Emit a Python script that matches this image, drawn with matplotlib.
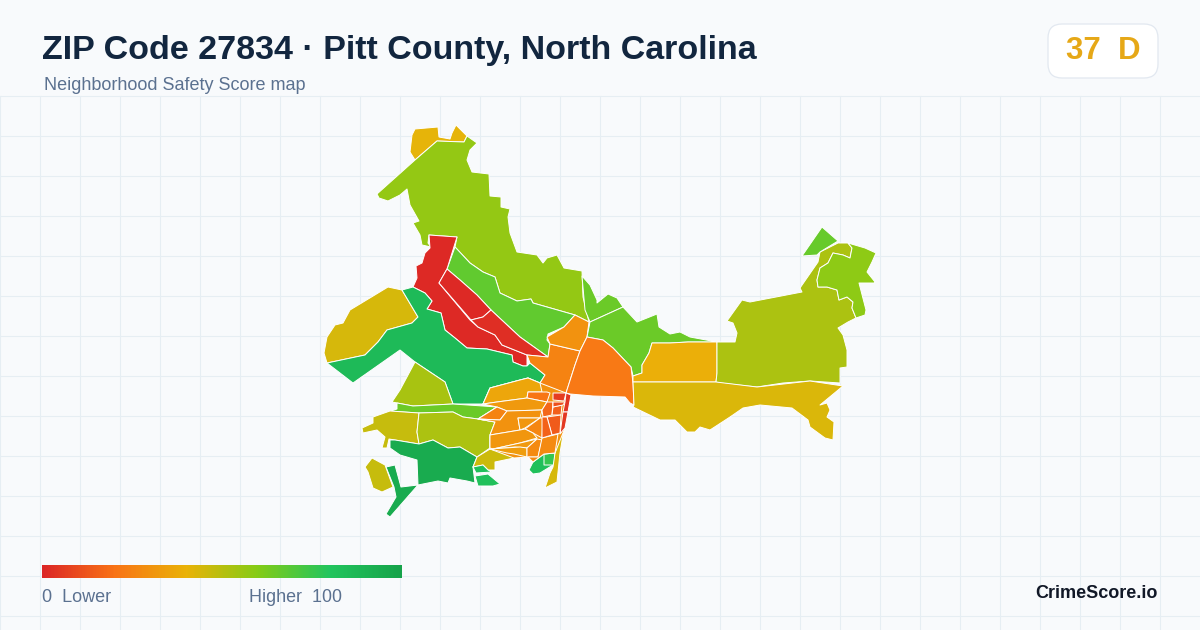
#!/usr/bin/env python3
import numpy as np
import matplotlib
matplotlib.use("Agg")
import matplotlib.pyplot as plt
from matplotlib.colors import LinearSegmentedColormap
from matplotlib.patches import FancyBboxPatch, Polygon

plt.rcParams["font.family"] = ["Liberation Sans", "DejaVu Sans"]

# tract outlines, x/y on the 1200x630 sheet
cap_north = [(415,160),(410,152),(412,135),(415,129),(438,127),(439,137),(450,139),(452,133),(456,125),(467,136),(464,142),(437,141)]
north_big = [(377,194),(415,160),(437,141),(464,142),(467,136),(477,143),(470,150),(467,160),(472,172),(489,174),(490,196),(501,197),(501,207),(510,209),(508,217),(510,233),(517,252),(537,255),(543,263),(547,258),(557,255),(564,268),(582,271),(583,297),(589,322),(575,315),(533,303),(531,299),(517,301),(500,293),(495,277),(483,272),(470,263),(455,247),(457,237),(429,235),(428,243),(431,247),(422,245),(420,235),(413,223),(419,221),(410,205),(407,189),(400,195),(388,201),(379,198)]
north_mid = [(455,247),(470,263),(483,272),(495,277),(500,293),(517,301),(531,299),(533,303),(575,315),(564,327),(548,334),(547,340),(550,344),(548,357),(520,337),(491,310),(477,295),(460,280),(447,269)]
red_west = [(429,235),(457,237),(447,269),(439,283),(470,320),(478,327),(495,335),(502,345),(527,355),(527,366),(523,366),(513,362),(512,355),(487,349),(467,348),(455,338),(445,330),(441,313),(427,309),(432,301),(425,293),(413,287),(417,278),(416,266),(422,263),(425,253),(430,248)]
red_upper = [(447,269),(460,280),(477,295),(491,310),(483,317),(471,320),(439,283)]
red_lower = [(491,310),(520,337),(548,357),(527,355),(502,345),(495,335),(478,327),(471,320),(483,317)]
west_olive = [(324,353),(327,337),(335,325),(343,323),(350,310),(388,287),(402,290),(418,317),(412,323),(387,330),(378,342),(365,355),(327,363)]
west_green = [(327,363),(365,355),(378,342),(387,330),(412,323),(418,317),(402,290),(413,287),(425,293),(432,301),(427,309),(441,313),(445,330),(455,338),(467,348),(487,349),(512,355),(513,362),(523,366),(527,366),(530,363),(545,375),(540,383),(528,378),(520,380),(490,388),(483,404),(453,404),(445,382),(415,362),(400,350),(353,383)]
centre_orange = [(527,355),(548,357),(550,344),(580,351),(575,365),(566,393),(553,394),(530,392),(540,383),(545,375),(530,363)]
notch_orange = [(547,337),(564,327),(575,315),(589,322),(587,337),(580,351),(550,344)]
sliver_green = [(582,276),(590,285),(597,300),(597,303),(608,294),(617,298),(623,307),(590,322),(585,310)]
east_green = [(590,322),(623,307),(637,322),(657,314),(659,327),(670,334),(680,332),(690,337),(717,342),(688,342),(670,343),(652,343),(649,353),(642,365),(642,373),(633,376),(631,367),(613,348),(603,340),(587,337)]
east_orange = [(587,337),(603,340),(613,348),(631,367),(633,383),(634,405),(630,403),(625,397),(593,396),(570,394),(566,393),(575,365),(580,351)]
east_box = [(633,376),(642,373),(642,365),(649,353),(652,343),(670,343),(688,342),(717,342),(717,373),(716,382),(633,382)]
east_large = [(717,342),(735,342),(737,333),(733,323),(727,321),(742,300),(750,302),(802,292),(800,288),(818,262),(820,252),(838,243),(848,243),(852,248),(850,258),(843,255),(833,253),(828,263),(820,268),(817,280),(818,287),(827,287),(837,290),(839,300),(847,297),(853,302),(852,308),(856,318),(848,322),(838,328),(843,335),(847,350),(847,367),(840,368),(840,383),(810,381),(783,383),(757,387),(720,383),(716,382),(717,373)]
ne_lime = [(848,243),(865,248),(876,253),(872,262),(867,272),(875,282),(874,283),(859,283),(866,310),(865,315),(856,318),(852,308),(853,302),(847,297),(839,300),(837,290),(827,287),(818,287),(817,280),(820,268),(828,263),(833,253),(843,255),(850,258),(852,248)]
ne_tip = [(802,256),(822,227),(838,241),(820,252),(817,255)]
south_east = [(633,382),(716,382),(757,387),(810,381),(843,386),(820,405),(827,403),(830,410),(827,417),(834,422),(833,440),(825,438),(810,427),(808,420),(792,408),(760,405),(743,408),(730,417),(710,430),(700,427),(695,432),(687,432),(675,420),(660,420),(633,407),(634,405)]
mid_olive = [(415,362),(445,382),(453,404),(413,406),(392,402),(400,390)]
mid_strip = [(397,403),(413,406),(453,404),(483,406),(497,407),(478,419),(463,417),(453,412),(418,413),(390,411),(397,409)]
sw_olive = [(373,417),(390,411),(419,413),(417,432),(419,444),(395,440),(389,439),(387,448),(382,448),(385,437),(377,430),(363,433),(362,428),(373,423)]
centre_olive = [(419,413),(453,412),(463,417),(478,419),(495,422),(490,437),(490,448),(477,457),(460,447),(448,448),(433,440),(419,444),(417,432)]
sw_green = [(390,440),(395,440),(419,444),(433,440),(448,448),(460,447),(477,457),(473,467),(475,483),(467,481),(450,478),(448,483),(438,481),(418,485),(417,460),(400,455),(390,448)]
sw_spike = [(386,467),(395,465),(401,487),(418,485),(390,517),(386,514),(396,497),(394,487)]
sw_island = [(372,458),(385,465),(393,487),(382,492),(373,488),(368,472),(365,467)]
south_olive = [(477,457),(490,449),(507,453),(514,454),(514,458),(495,462),(495,470),(488,470),(483,465),(473,467)]
shore_a = [(473,467),(483,465),(488,470),(492,472),(476,473)]
shore_b = [(475,476),(488,474),(500,484),(493,486),(478,486)]
south_green = [(543,453),(555,453),(553,465),(540,473),(533,474),(529,470),(533,462)]
south_tile = [(544,454),(555,453),(554,465),(544,465)]
se_strip = [(563,435),(560,453),(557,482),(545,488),(550,473),(553,467),(555,453),(560,435)]
town_base = [(483,404),(490,388),(528,378),(540,383),(566,393),(571,395),(565,428),(555,453),(544,454),(533,462),(528,457),(514,458),(490,449),(490,435),(495,422),(478,419),(497,407)]
town_a = [(490,388),(520,380),(528,378),(540,383),(542,392),(528,392),(527,398),(497,402),(483,404)]
town_b = [(528,392),(547,392),(550,393),(547,402),(527,398)]
town_c = [(483,404),(497,402),(527,398),(547,402),(542,410),(507,411),(497,407)]
town_d = [(478,419),(497,407),(507,411),(500,420)]
town_e = [(478,419),(500,420),(507,411),(542,410),(540,418),(518,418),(520,430),(490,435),(495,422)]
town_f = [(518,418),(540,418),(537,420),(525,428),(520,430)]
town_g = [(525,429),(540,418),(543,418),(542,438),(533,433)]
town_h = [(490,435),(520,430),(525,429),(533,433),(537,438),(520,443),(493,449),(490,448)]
town_i = [(493,449),(520,443),(537,439),(527,448),(515,447)]
town_j = [(490,449),(520,447),(527,448),(527,457),(514,454),(507,453)]
town_k = [(537,439),(542,440),(538,457),(527,457),(527,448)]
town_l = [(542,438),(558,434),(555,453),(544,454),(533,462),(528,457),(538,457)]
core_a = [(542,410),(547,402),(553,402),(552,415),(543,417)]
core_b = [(552,415),(553,407),(562,405),(561,415)]
core_c = [(553,402),(565,402),(563,405),(553,407)]
core_d = [(553,393),(566,393),(564,401),(553,400)]
core_e = [(566,393),(571,395),(568,412),(563,412),(565,402)]
core_f = [(563,412),(568,412),(565,428),(560,434)]
core_g = [(547,417),(561,415),(560,433),(552,435)]
core_h = [(542,417),(547,417),(552,435),(542,438)]

tracts = [cap_north, north_big, north_mid, red_west, red_upper, red_lower, west_olive, west_green,
          centre_orange, notch_orange, sliver_green, east_green, east_orange, east_box, east_large,
          ne_lime, ne_tip, south_east, mid_olive, mid_strip, sw_olive, centre_olive, sw_green,
          sw_spike, sw_island, south_olive, shore_a, shore_b, south_green, south_tile, se_strip,
          town_base, town_a, town_b, town_c, town_d, town_e, town_f, town_g, town_h, town_i, town_j,
          town_k, town_l, core_a, core_b, core_c, core_d, core_e, core_f, core_g, core_h]
scores = [41, 57, 67, 1, 1, 2, 44, 86,
          25, 30, 65, 65, 22, 39, 52,
          58, 66, 43, 53, 65, 47, 52, 95,
          95, 47, 46, 83, 83, 83, 76, 44,
          30, 36, 21, 32, 25, 30, 31, 26, 31, 32, 33,
          27, 27, 17, 15, 11, 6, 4, 5, 14, 16]

stops = [0.0, 0.2, 0.4, 0.6, 0.8, 1.0]
stop_colors = ["#dc2626", "#f97316", "#eab308", "#84cc16", "#22c55e", "#16a34a"]
score_cmap = LinearSegmentedColormap.from_list("score", list(zip(stops, stop_colors)))

BG = "#f8fafc"
GRID = "#e6eef3"
NAVY = "#12263f"
SLATE = "#5b7190"

fig = plt.figure(figsize=(12, 6.3), dpi=100, facecolor=BG)
ax = fig.add_axes([0, 0, 1, 1])
ax.set_xlim(0, 1200)
ax.set_ylim(630, 0)
ax.axis("off")

for x in range(0, 1200, 40):
    ax.plot([x, x], [96, 630], color=GRID, lw=0.8, zorder=1)
for y in range(96, 630, 40):
    ax.plot([0, 1200], [y, y], color=GRID, lw=0.8, zorder=1)

for outline, score in zip(tracts, scores):
    ax.add_patch(Polygon(outline, closed=True, facecolor=score_cmap(score / 100),
                         edgecolor="white", lw=0.7, joinstyle="round", zorder=2))

ax.text(42, 50.5, "ZIP Code 27834 · Pitt County, North Carolina", fontsize=24.5, fontweight="bold",
        color=NAVY, va="center", ha="left")
ax.text(44, 86, "Neighborhood Safety Score map", fontsize=12.95, color=SLATE, va="center", ha="left")

ax.add_patch(FancyBboxPatch((1060, 36), 86, 30, boxstyle="round,pad=12,rounding_size=14",
                            facecolor="white", edgecolor="#e2e8f0", lw=0.9, zorder=3))
ax.text(1103, 51, "37  D", fontsize=22.5, fontweight="bold", color="#e6a817", va="center", ha="center", zorder=4)

gradient = np.linspace(0, 1, 360).reshape(1, -1)
ax.imshow(gradient, cmap=score_cmap, extent=(42, 402, 578, 565), aspect="auto", zorder=3)
ax.set_xlim(0, 1200)
ax.set_ylim(630, 0)

ax.text(42, 597, "0  Lower", fontsize=12.95, color=SLATE, va="center", ha="left")
ax.text(342, 597, "Higher  100", fontsize=12.85, color=SLATE, va="center", ha="right")
ax.text(1158, 594, "CrimeScore.io", fontsize=13, fontweight="bold", color="#111827", va="center", ha="right")

fig.savefig("out.png", dpi=100, facecolor=BG)
